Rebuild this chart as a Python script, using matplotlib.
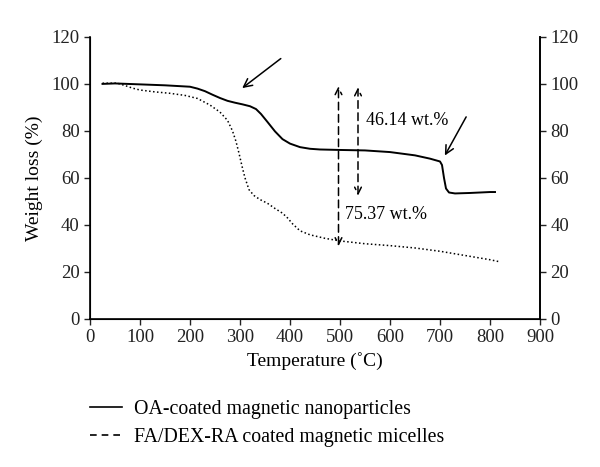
import numpy as np
import matplotlib.pyplot as plt
from matplotlib.lines import Line2D

plt.rcParams['font.family'] = ['Liberation Serif', 'DejaVu Serif']

# OA-coated magnetic nanoparticles (solid)
oa_temp = [25, 50, 100, 150, 200, 215, 230, 245, 260, 275, 290, 305, 320, 332, 342,
           355, 370, 385, 400, 420, 440, 460, 500, 550, 600, 650, 680, 700, 704, 708,
           712, 718, 730, 760, 800, 810]
oa_wt = [100, 100.2, 99.8, 99.4, 98.8, 98.0, 96.9, 95.4, 94.0, 92.8, 92.0, 91.3, 90.5,
         89.3, 87.2, 83.8, 79.8, 76.5, 74.6, 73.1, 72.4, 72.1, 71.9, 71.7, 71.0, 69.6,
         68.2, 67.0, 65.5, 60.0, 55.5, 53.8, 53.4, 53.6, 54.0, 54.0]

# FA/DEX-RA coated magnetic micelles (dotted)
fa_temp = [25, 55, 70, 85, 100, 130, 160, 190, 215, 240, 260, 275, 285, 292, 298,
           304, 310, 318, 328, 340, 355, 370, 385, 395, 405, 420, 440, 470, 500, 550,
           600, 650, 700, 750, 800, 820]
fa_wt = [100.3, 100.3, 99.3, 98.2, 97.4, 96.6, 96.0, 95.1, 93.8, 91.0, 88.0, 84.5,
         80.0, 75.5, 70.5, 65.0, 60.0, 55.0, 52.5, 50.8, 49.2, 47.0, 45.0, 43.0, 40.5,
         37.5, 35.8, 34.3, 33.2, 32.0, 31.2, 30.2, 28.8, 27.0, 25.2, 24.3]

ticks_y = [0, 20, 40, 60, 80, 100, 120]
ticks_x = [0, 100, 200, 300, 400, 500, 600, 700, 800, 900]

fig = plt.figure(figsize=(6, 4.67), dpi=100)
ax = fig.add_axes([0.15, 0.317, 0.75, 0.604])

ax.plot(oa_temp, oa_wt, color='black', lw=1.4)
ax.plot(fa_temp, fa_wt, color='black', lw=1.1, linestyle=(0, (1, 1.6)))

ax.set_xlim(0, 900)
ax.set_ylim(0, 120)
ax.set_xticks(ticks_x)
ax.set_yticks(ticks_y)
ax.tick_params(labelsize=13.5, direction='out', length=4, width=1, colors='#222222')
ax.spines['top'].set_visible(False)
for s in ['left', 'bottom', 'right']:
    ax.spines[s].set_linewidth(1.2)
ax.set_xlabel('Temperature (˚C)', fontsize=14, labelpad=4)
ax.set_ylabel('Weight loss (%)', fontsize=14, labelpad=6)

ax2 = ax.twinx()
ax2.set_ylim(0, 120)
ax2.set_yticks(ticks_y)
ax2.tick_params(labelsize=13.5, direction='out', length=4, width=1, colors='#222222')
ax2.spines['top'].set_visible(False)
ax2.spines['right'].set_linewidth(1.2)

# pointer arrows
ax.annotate('', xy=(300, 97.5), xytext=(386, 111.5),
            arrowprops=dict(arrowstyle='->', color='black', lw=1.1, mutation_scale=15))
ax.annotate('', xy=(707, 68.5), xytext=(755, 87),
            arrowprops=dict(arrowstyle='->', color='black', lw=1.1, mutation_scale=15))

# weight loss double arrows
ax.annotate('', xy=(497, 99), xytext=(497, 31),
            arrowprops=dict(arrowstyle='<->', color='black', lw=1.1, linestyle=(0, (5, 3)),
                            mutation_scale=12, shrinkA=0, shrinkB=0))
ax.annotate('', xy=(536, 98.5), xytext=(536, 52.5),
            arrowprops=dict(arrowstyle='<->', color='black', lw=1.1, linestyle=(0, (5, 3)),
                            mutation_scale=12, shrinkA=0, shrinkB=0))
ax.text(551, 84.5, '46.14 wt.%', fontsize=13, va='center', ha='left')
ax.text(510, 44.5, '75.37 wt.%', fontsize=13, va='center', ha='left')

handles = [Line2D([], [], color='black', lw=1.2),
           Line2D([], [], color='black', lw=1.2, linestyle=(0, (4, 3)))]
fig.legend(handles, ['OA-coated magnetic nanoparticles', 'FA/DEX-RA coated magnetic micelles'],
           loc='upper left', bbox_to_anchor=(0.15, 0.143), frameon=False, fontsize=14.3,
           handlelength=1.6, handletextpad=0.6, labelspacing=0.42, borderaxespad=0,
           borderpad=0)

fig.savefig('out.png', dpi=100)
